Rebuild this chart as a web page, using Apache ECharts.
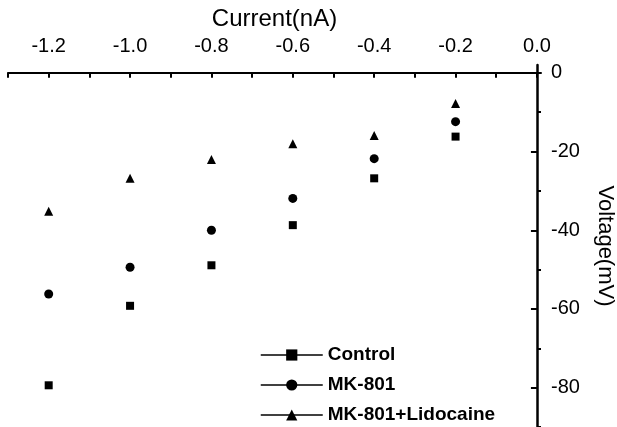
<!DOCTYPE html>
<html style="height: 100%">
<head>
    <meta charset="utf-8">
</head>
<body style="height: 100%; margin: 0; background: #fff">
<div id="container" style="width: 617px; height: 427px"></div>
<script type="text/javascript" src="https://cdn.jsdelivr.net/npm/echarts@6/dist/echarts.min.js"></script>
<script type="text/javascript">
    // current steps (nA)
    var current = [-1.2, -1.0, -0.8, -0.6, -0.4, -0.2];
    // voltage (mV)
    var control = [-79.4, -59.2, -48.9, -38.7, -26.8, -16.2];
    var mk801 = [-56.2, -49.4, -40.0, -31.9, -21.8, -12.4];
    var mk801Lido = [-35.2, -26.8, -22.0, -18.0, -15.9, -7.8];

    var xMajor = [-1.2, -1.0, -0.8, -0.6, -0.4, -0.2, 0.0];
    var xMinor = [-1.3, -1.1, -0.9, -0.7, -0.5, -0.3, -0.1];
    var yMajor = [0, -20, -40, -60, -80];
    var yMinor = [-10, -30, -50, -70, -90];

    function pairs(ys) {
        return current.map(function (x, i) { return [x, ys[i]]; });
    }

    var font = 'Liberation Sans, Arial, sans-serif';
    var myChart = echarts.init(document.getElementById('container'));

    var option = {
        animation: false,
        grid: { left: 8, right: 76, top: 65, bottom: 0, outerBoundsMode: 'none', containLabel: false },
        legend: {
            orient: 'vertical',
            left: 255,
            top: 340,
            height: 87,
            itemWidth: 62,
            itemHeight: 14,
            itemGap: 10,
            textStyle: { fontFamily: font, fontSize: 19, lineHeight: 20, fontWeight: 'bold', color: '#000' },
            lineStyle: { color: '#000', width: 1.5, opacity: 1 },
            data: ['Control', 'MK-801', 'MK-801+Lidocaine']
        },
        xAxis: [{
            type: 'value',
            position: 'top',
            min: -1.3,
            max: 0.01,
            name: 'Current(nA)',
            nameLocation: 'middle',
            nameGap: 30,
            nameTextStyle: { fontFamily: font, fontSize: 24, color: '#000' },
            axisLine: { lineStyle: { color: '#000', width: 2 } },
            axisTick: { inside: true, length: 5, lineStyle: { color: '#000', width: 2 }, customValues: xMajor.concat(xMinor) },
            axisLabel: {
                fontFamily: font, fontSize: 20, color: '#000', margin: 9,
                customValues: xMajor,
                formatter: function (v) { return v.toFixed(1); }
            },
            splitLine: { show: false }
        }],
        yAxis: [{
            type: 'value',
            position: 'right',
            min: -90,
            max: 2,
            name: 'Voltage(mV)',
            nameLocation: 'middle',
            nameRotate: -90,
            nameGap: 53,
            nameTextStyle: { fontFamily: font, fontSize: 22, color: '#000' },
            axisLine: { lineStyle: { color: '#000', width: 2.5 } },
            axisTick: { inside: true, length: 6, lineStyle: { color: '#000', width: 2 }, customValues: yMajor },
            axisLabel: { fontFamily: font, fontSize: 20, color: '#000', margin: 10, customValues: yMajor },
            splitLine: { show: false }
        }, {
            type: 'value',
            position: 'right',
            min: -90,
            max: 2,
            axisLine: { show: false },
            axisTick: { inside: true, length: 3, lineStyle: { color: '#000', width: 2 }, customValues: yMinor },
            axisLabel: { show: false },
            splitLine: { show: false }
        }],
        series: [
            {
                name: 'Control',
                type: 'line',
                symbol: 'rect',
                symbolSize: 8,
                itemStyle: { color: '#000' },
                lineStyle: { width: 0, opacity: 0 },
                data: pairs(control)
            },
            {
                name: 'MK-801',
                type: 'line',
                symbol: 'circle',
                symbolSize: 9,
                itemStyle: { color: '#000' },
                lineStyle: { width: 0, opacity: 0 },
                data: pairs(mk801)
            },
            {
                name: 'MK-801+Lidocaine',
                type: 'line',
                symbol: 'triangle',
                symbolSize: 9,
                itemStyle: { color: '#000' },
                lineStyle: { width: 0, opacity: 0 },
                data: pairs(mk801Lido)
            }
        ]
    };

    myChart.setOption(option);
</script>
</body>
</html>
